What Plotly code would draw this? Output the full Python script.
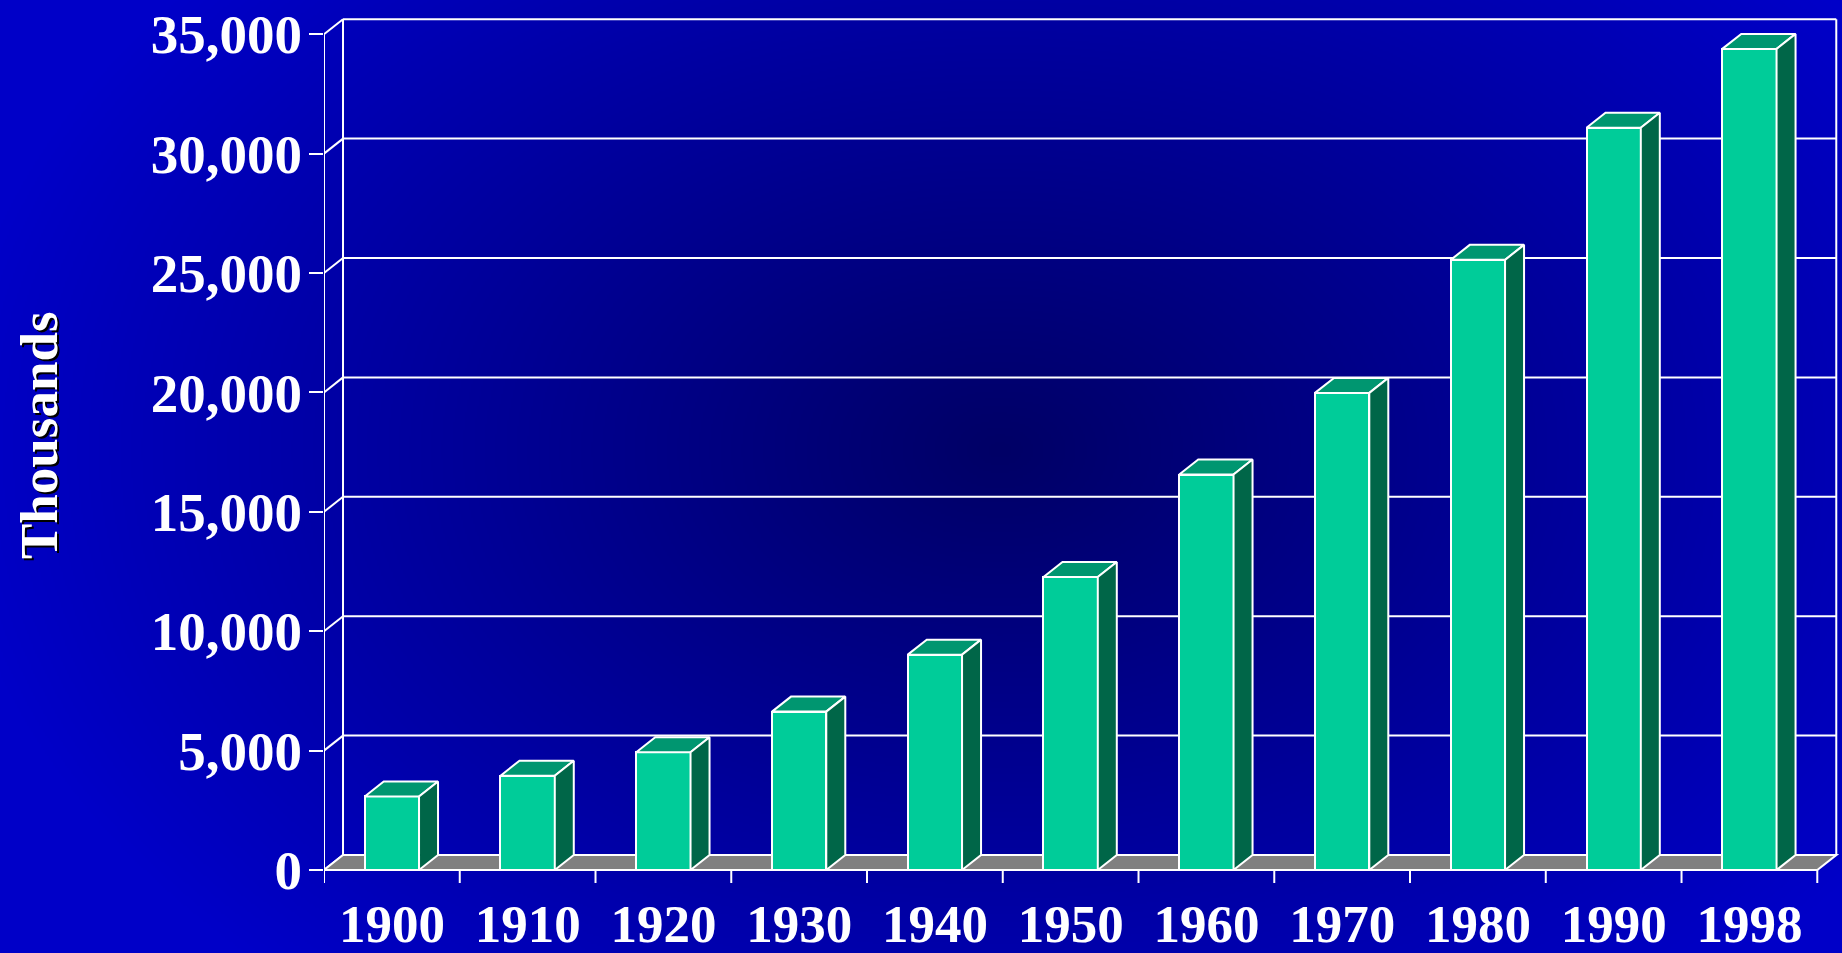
import base64
import struct
import zlib

import numpy as np
import plotly.graph_objects as go

# ---- data -------------------------------------------------------------
years = ["1900", "1910", "1920", "1930", "1940", "1950",
         "1960", "1970", "1980", "1990", "1998"]
population_thousands = [3080, 3950, 4933, 6634, 9019, 12270,
                        16560, 19980, 25550, 31079, 34384]
y_ticks = [0, 5000, 10000, 15000, 20000, 25000, 30000, 35000]
y_title = "Thousands"

# ---- styling / geometry -----------------------------------------------
W, H = 1842, 953
M_L, M_R, M_T, M_B = 324, 3, 17, 70
N = len(years)
X_RANGE = [0, 11.16]
Y_RANGE = [-544, 35720]
DX, DY = 0.14, 628          # 3-D depth offset (category units, value units)
BAR_W = 0.4
Y_TOP = y_ticks[-1]

FRONT = "#00CC99"
TOP = "#009670"
SIDE = "#006648"
FLOOR = "#808080"
LINE = "white"
FONT = "Liberation Serif"

plot_w = W - M_L - M_R
plot_h = H - M_T - M_B


def png_uri(rgb):
    h, w, _ = rgb.shape
    raw = b"".join(b"\x00" + rgb[i].tobytes() for i in range(h))

    def chunk(tag, data):
        return (struct.pack(">I", len(data)) + tag + data
                + struct.pack(">I", zlib.crc32(tag + data) & 0xFFFFFFFF))

    png = (b"\x89PNG\r\n\x1a\n"
           + chunk(b"IHDR", struct.pack(">IIBBBBB", w, h, 8, 2, 0, 0, 0))
           + chunk(b"IDAT", zlib.compress(raw, 9))
           + chunk(b"IEND", b""))
    return "data:image/png;base64," + base64.b64encode(png).decode()


# radial blue background, dark navy in the middle
gw, gh = W // 2, H // 2
gx = (np.arange(gw) + 0.5) * W / gw
gy = (np.arange(gh) + 0.5) * H / gh
XX, YY = np.meshgrid(gx, gy)
f = np.sqrt(((XX - 1000) / 1050) ** 2 + ((YY - 450) / 720) ** 2)
f = np.clip(f, 0, 1)
blue = (102 + 98 * f).astype(np.uint8)
img = np.zeros((gh, gw, 3), dtype=np.uint8)
img[..., 2] = blue
bg_uri = png_uri(img)

fig = go.Figure()

# front faces
centers = [i + 0.5 for i in range(N)]
fig.add_trace(go.Bar(
    x=centers, y=population_thousands, width=BAR_W, base=0,
    marker=dict(color=FRONT, line=dict(color=LINE, width=2)),
    hoverinfo="skip", showlegend=False,
))

# top and side faces
tx, ty, sx, sy = [], [], [], []
for i, v in enumerate(population_thousands):
    x0 = i + 0.5 - BAR_W / 2
    x1 = i + 0.5 + BAR_W / 2
    tx += [x0, x1, x1 + DX, x0 + DX, x0, None]
    ty += [v, v, v + DY, v + DY, v, None]
    sx += [x1, x1 + DX, x1 + DX, x1, x1, None]
    sy += [0, DY, v + DY, v, 0, None]

fig.add_trace(go.Scatter(
    x=tx, y=ty, mode="lines", fill="toself", fillcolor=TOP,
    line=dict(color=LINE, width=2), hoverinfo="skip", showlegend=False,
))
fig.add_trace(go.Scatter(
    x=sx, y=sy, mode="lines", fill="toself", fillcolor=SIDE,
    line=dict(color=LINE, width=2), hoverinfo="skip", showlegend=False,
))

# walls, grid, floor
shapes = []
line_style = dict(color=LINE, width=2)
for v in y_ticks:
    shapes.append(dict(type="line", x0=DX, x1=N + DX, y0=v + DY, y1=v + DY,
                       line=line_style, layer="below"))
    shapes.append(dict(type="line", x0=0, x1=DX, y0=v, y1=v + DY,
                       line=line_style, layer="below"))
shapes.append(dict(type="line", x0=DX, x1=DX, y0=DY, y1=Y_TOP + DY,
                   line=line_style, layer="below"))
shapes.append(dict(type="line", x0=N + DX, x1=N + DX, y0=DY, y1=Y_TOP + DY,
                   line=line_style, layer="below"))
shapes.append(dict(type="line", x0=0, x1=0, y0=Y_RANGE[0], y1=Y_TOP,
                   line=line_style, layer="below"))
shapes.append(dict(
    type="path",
    path=f"M 0,0 L {N},0 L {N + DX},{DY} L {DX},{DY} Z",
    fillcolor=FLOOR, line=line_style, layer="below",
))
for k in range(N + 1):
    shapes.append(dict(type="line", x0=k, x1=k, y0=0, y1=Y_RANGE[0],
                       line=line_style, layer="below"))

label_font = dict(family=FONT, size=53, color="white", weight="bold")
ytick_font = dict(family=FONT, size=55, color="white", weight="bold")

# axis title with a dark drop shadow
ty_px = 435
title_x = (39 - M_L) / plot_w
title_y = (H - M_B - ty_px) / plot_h
annotations = [
    dict(text=y_title, x=title_x, y=title_y, xref="paper", yref="paper",
         xanchor="center", yanchor="middle",
         textangle=-90, showarrow=False, xshift=2, yshift=-2,
         font=dict(family=FONT, size=53, color="black", weight="bold")),
    dict(text=y_title, x=title_x, y=title_y, xref="paper", yref="paper",
         xanchor="center", yanchor="middle",
         textangle=-90, showarrow=False, font=label_font),
]

fig.update_layout(
    width=W, height=H,
    margin=dict(l=M_L, r=M_R, t=M_T, b=M_B, pad=0),
    paper_bgcolor="#0000C8",
    plot_bgcolor="rgba(0,0,0,0)",
    bargap=0,
    shapes=shapes,
    annotations=annotations,
    images=[dict(
        source=bg_uri, xref="paper", yref="paper",
        x=-M_L / plot_w, y=1 + M_T / plot_h,
        sizex=W / plot_w, sizey=H / plot_h,
        xanchor="left", yanchor="top", sizing="stretch", layer="below",
    )],
    xaxis=dict(
        range=X_RANGE, tickvals=centers, ticktext=years, ticks="",
        showgrid=False, zeroline=False, showline=False,
        tickfont=label_font, automargin=False, fixedrange=True,
        ticklabelstandoff=5,
    ),
    yaxis=dict(
        range=Y_RANGE, tickvals=y_ticks, tickformat=",",
        ticks="outside", ticklen=14, tickwidth=2, tickcolor=LINE,
        showgrid=False, zeroline=False, showline=False,
        tickfont=ytick_font, automargin=False, fixedrange=True,
        ticklabelstandoff=-4,
    ),
)

fig.write_html("out.html")
